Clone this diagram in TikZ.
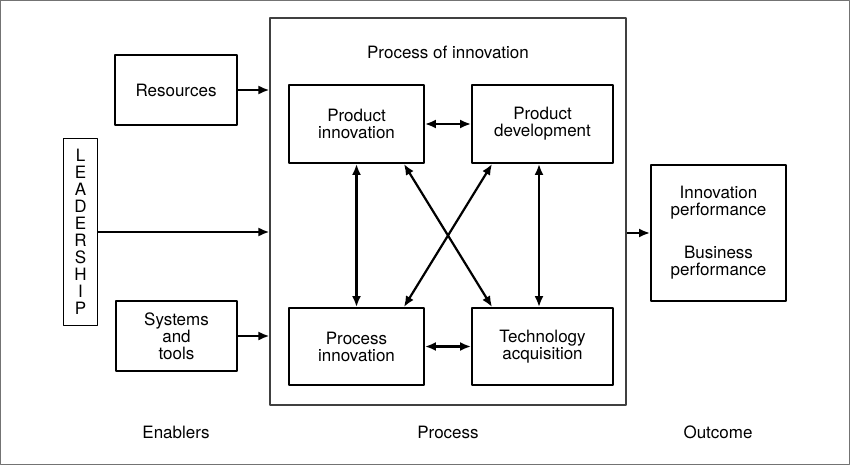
\documentclass[tikz,border=0pt]{standalone}
\usepackage{fontspec}
\setmainfont{TeX Gyre Heros}
\usetikzlibrary{arrows.meta}
\tikzset{
  box/.style={draw,line width=1.8pt,inner sep=0pt,align=center,
    font=\fontsize{17}{17}\selectfont},
  label/.style={inner sep=0pt,font=\fontsize{17}{17}\selectfont},
  link/.style={line width=2.2pt,->},
  twoway/.style={line width=2.2pt,<->}
}
\begin{document}
\begin{tikzpicture}[x=1pt,y=-1pt,line join=round,>={Latex[length=11pt,width=9pt]}]
  \useasboundingbox (0,0) rectangle (850,465);
  \draw [black!55, line width=1pt] (0.5,0.5) rectangle (849.5,464.5);
  % enablers
  \node [box, minimum width=122, minimum height=70] (res) at (176,90) {Resources};
  \node [box, minimum width=121, minimum height=70] (sys) at (176.5,336) {Systems\\and\\tools};
  \node [box, minimum width=34, minimum height=187] (lead) at (80.5,232)
    {L\\E\\A\\D\\E\\R\\S\\H\\I\\P};
  % process
  \node [draw, black!75, line width=1.1pt, minimum width=356, minimum height=387,
    inner sep=0pt] (proc) at (448,211.5) {};
  \node [label] (ptitle) at (448,52) {Process of innovation};
  \node [box, minimum width=135, minimum height=78] (pi) at (356.5,124) {Product\\innovation};
  \node [box, minimum width=141, minimum height=78] (pd) at (542.5,124) {Product\\development};
  \node [box, minimum width=135, minimum height=77] (pri) at (356.5,346.5) {Process\\innovation};
  \node [box, minimum width=141, minimum height=77] (ta) at (542.5,346.5) {Technology\\acquisition};
  % outcome
  \node [box, minimum width=135, minimum height=136] (out) at (718.5,233)
    {Innovation\\performance\\[26pt]Business\\performance};
  % connectors
  \draw [link] (res.east) -- (res.east -| proc.west);
  \draw [link] (lead.east) -- (lead.east -| proc.west);
  \draw [link] (sys.east) -- (sys.east -| proc.west);
  \draw [link] (out.west -| proc.east) -- (out.west);
  \draw [twoway] (pi.east) -- (pd.west);
  \draw [twoway] (pri.east) -- (ta.west);
  \draw [twoway] (pi.south) -- (pri.north);
  \draw [twoway] ([xshift=-3.5pt]pd.south) -- ([xshift=-3.5pt]ta.north);
  \draw [twoway] ([xshift=-21pt]pi.south east) -- ([xshift=21pt]ta.north west);
  \draw [twoway] ([xshift=21pt]pd.south west) -- ([xshift=-21pt]pri.north east);
  % column labels
  \node [label] (enab) at (176,432) {Enablers};
  \node [label] (ptext) at (448,432) {Process};
  \node [label] (otext) at (718,432) {Outcome};
\end{tikzpicture}
\end{document}
